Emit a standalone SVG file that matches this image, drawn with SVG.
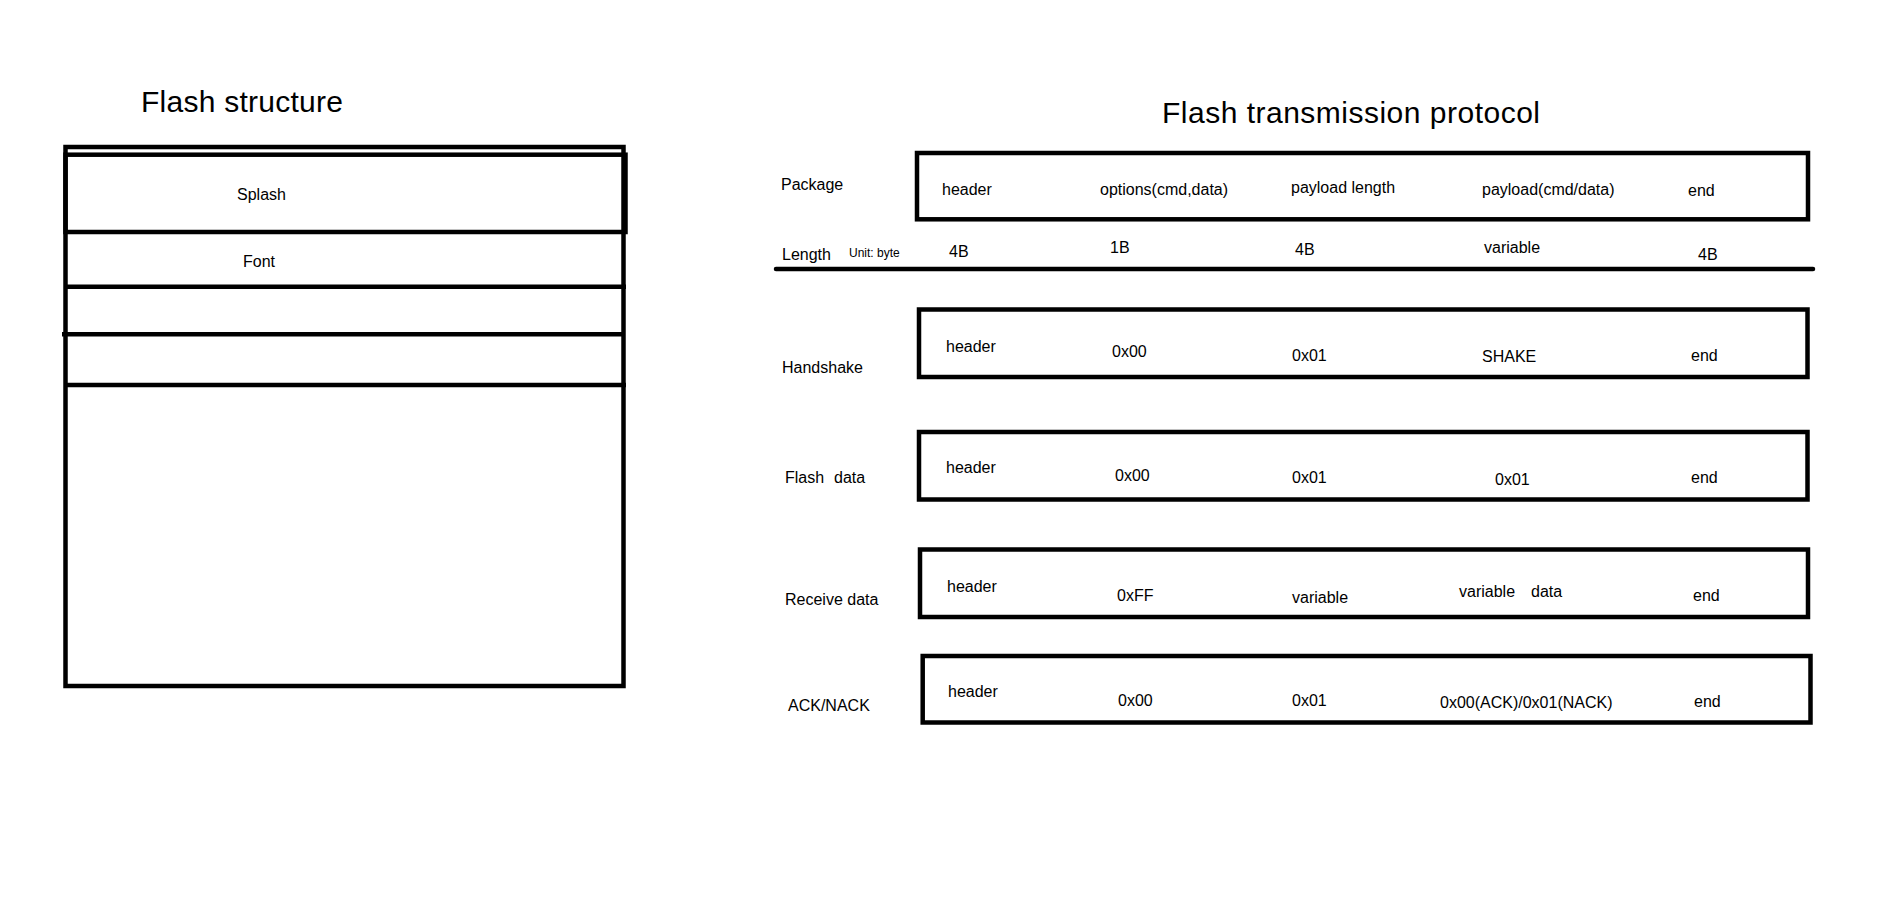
<svg xmlns="http://www.w3.org/2000/svg" width="1902" height="917" viewBox="0 0 1902 917">
<style>
  .bg{fill:#ffffff}
  .box{fill:none;stroke:#000;stroke-width:4.5}
  .ln{stroke:#000;stroke-width:4.5;fill:none}
  text{font-family:"Liberation Sans",Arial,sans-serif;fill:#000}
  .title{font-size:30px}
  .lbl{font-size:16px}
  .small{font-size:12px}
</style>
<rect class="bg" x="0" y="0" width="1902" height="917"/>

<g id="flash-structure">
  <text class="title" x="141" y="112" textLength="202">Flash structure</text>
  <rect class="box" x="65.5" y="147" width="558" height="539"/>
  <g id="splash">
    <rect class="box" x="65.5" y="154.7" width="560" height="77.3"/>
    <text class="lbl" x="237" y="200">Splash</text>
  </g>
  <g id="font">
    <line class="ln" x1="65.5" y1="286.7" x2="626" y2="286.7"/>
    <text class="lbl" x="243" y="267">Font</text>
  </g>
  <g id="section-3">
    <line class="ln" x1="62" y1="334.3" x2="623.5" y2="334.3"/>
  </g>
  <g id="section-4">
    <line class="ln" x1="65.5" y1="385" x2="626" y2="385"/>
  </g>
</g>

<g id="protocol">
  <text class="title" x="1162" y="123" textLength="378">Flash transmission protocol</text>

  <g id="package">
    <rect class="box" x="917" y="153" width="891" height="66.3"/>
    <text class="lbl" x="781" y="190">Package</text>
    <text class="lbl" x="942" y="195">header</text>
    <text class="lbl" x="1100" y="195">options(cmd,data)</text>
    <text class="lbl" x="1291" y="193">payload length</text>
    <text class="lbl" x="1482" y="195">payload(cmd/data)</text>
    <text class="lbl" x="1688" y="196">end</text>
  </g>

  <g id="length">
    <line class="ln" x1="776" y1="269" x2="1813" y2="269" stroke-linecap="round"/>
    <text class="lbl" x="782" y="260">Length</text>
    <text class="small" x="849" y="257">Unit: byte</text>
    <text class="lbl" x="949" y="257">4B</text>
    <text class="lbl" x="1110" y="253">1B</text>
    <text class="lbl" x="1295" y="255">4B</text>
    <text class="lbl" x="1484" y="253">variable</text>
    <text class="lbl" x="1698" y="260">4B</text>
  </g>

  <g id="handshake">
    <rect class="box" x="919" y="309.5" width="888.5" height="67.5"/>
    <text class="lbl" x="782" y="373">Handshake</text>
    <text class="lbl" x="946" y="352">header</text>
    <text class="lbl" x="1112" y="357">0x00</text>
    <text class="lbl" x="1292" y="361">0x01</text>
    <text class="lbl" x="1482" y="362">SHAKE</text>
    <text class="lbl" x="1691" y="361">end</text>
  </g>

  <g id="flash-data">
    <rect class="box" x="919" y="432" width="888.5" height="67.5"/>
    <text class="lbl" x="785" y="483">Flash</text>
    <text class="lbl" x="834" y="483">data</text>
    <text class="lbl" x="946" y="473">header</text>
    <text class="lbl" x="1115" y="481">0x00</text>
    <text class="lbl" x="1292" y="483">0x01</text>
    <text class="lbl" x="1495" y="485">0x01</text>
    <text class="lbl" x="1691" y="483">end</text>
  </g>

  <g id="receive-data">
    <rect class="box" x="920" y="549.5" width="888" height="67.5"/>
    <text class="lbl" x="785" y="605">Receive data</text>
    <text class="lbl" x="947" y="592">header</text>
    <text class="lbl" x="1117" y="601">0xFF</text>
    <text class="lbl" x="1292" y="603">variable</text>
    <text class="lbl" x="1459" y="597">variable</text>
    <text class="lbl" x="1531" y="597">data</text>
    <text class="lbl" x="1693" y="601">end</text>
  </g>

  <g id="ack-nack">
    <rect class="box" x="922.7" y="656" width="887.8" height="66.5"/>
    <text class="lbl" x="788" y="711">ACK/NACK</text>
    <text class="lbl" x="948" y="697">header</text>
    <text class="lbl" x="1118" y="706">0x00</text>
    <text class="lbl" x="1292" y="706">0x01</text>
    <text class="lbl" x="1440" y="708">0x00(ACK)/0x01(NACK)</text>
    <text class="lbl" x="1694" y="707">end</text>
  </g>
</g>

<g id="connectors"></g>
</svg>
